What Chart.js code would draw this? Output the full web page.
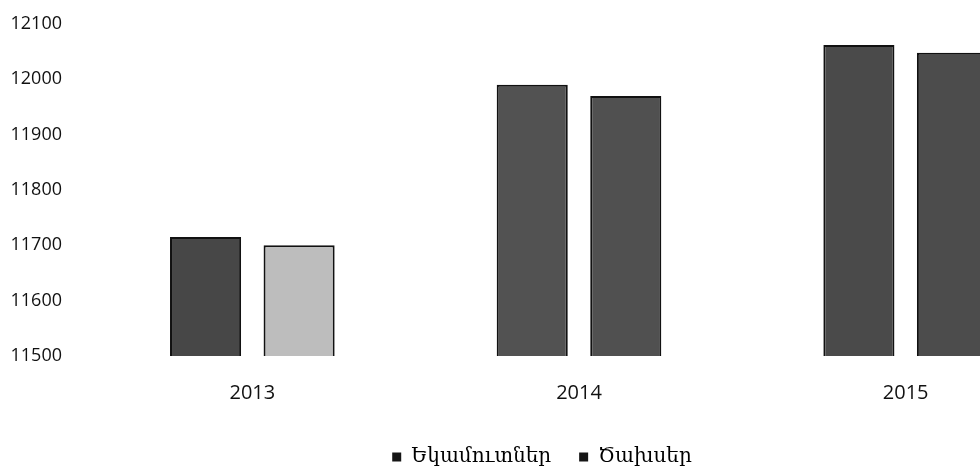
<!DOCTYPE html>
<html>
<head>
<meta charset="utf-8">
<script src="https://cdn.jsdelivr.net/npm/chart.js@4/dist/chart.umd.min.js"></script>
<style>
html,body{margin:0;padding:0;background:#fff;overflow:hidden}
#wrap{width:980px;height:472px;overflow:hidden;position:relative;background:#fff}
canvas{display:block}
</style>
</head>
<body>
<div id="wrap"><canvas id="c" width="1075" height="472"></canvas></div>
<script>
// ---- data ----
const years = ['2013', '2014', '2015'];
const seriesNames = ['Եկամուտներ', 'Ծախսեր'];
const incomes = [11715, 11990, 12062];
const expenses = [11700, 11970, 12048];
const yMin = 11500;
const yMax = 12100;
const yStep = 100;

// ---- styles ----
const incomeFill = ['#474747', '#525252', '#4a4a4a'];
const expenseFill = ['#bdbdbd', '#505050', '#4c4c4c'];
const legendBox = ['#151515', '#151515'];

const ctx = document.getElementById('c').getContext('2d');
new Chart(ctx, {
  type: 'bar',
  data: {
    labels: years,
    datasets: [
      { label: seriesNames[0], data: incomes, backgroundColor: incomeFill,
        borderColor: '#111', borderWidth: 2, borderSkipped: false },
      { label: seriesNames[1], data: expenses, backgroundColor: expenseFill,
        borderColor: '#111', borderWidth: 2, borderSkipped: false }
    ]
  },
  options: {
    responsive: false,
    animation: false,
    devicePixelRatio: 1,
    categoryPercentage: 0.5727,
    barPercentage: 0.76,
    layout: { padding: { left: 9, right: 0, top: 24, bottom: -5 } },
    plugins: {
      tooltip: { enabled: false },
      legend: {
        position: 'bottom',
        labels: {
          boxWidth: 9,
          boxHeight: 9,
          padding: 28,
          color: '#111',
          font: { family: "'DejaVu Serif', 'DejaVu Sans', serif", size: 20 },
          generateLabels: (chart) => chart.data.datasets.map((ds, i) => ({
            text: ds.label,
            fillStyle: legendBox[i],
            strokeStyle: legendBox[i],
            lineWidth: 0,
            hidden: false,
            datasetIndex: i
          }))
        }
      }
    },
    scales: {
      x: {
        grid: { display: false, drawTicks: false },
        border: { display: false },
        ticks: {
          color: '#111',
          padding: 25,
          font: { family: "'Open Sans', sans-serif", size: 20 }
        },
        afterFit: (s) => { s.height = 63; s.paddingRight = 6; }
      },
      y: {
        min: yMin,
        max: yMax,
        grid: { display: false, drawTicks: false },
        border: { display: false },
        ticks: {
          stepSize: yStep,
          color: '#111',
          padding: 27,
          font: { family: "'Open Sans', sans-serif", size: 18 },
          callback: (v) => String(v)
        },
        afterFit: (s) => { s.width = 80; s.paddingTop = 0; s.paddingBottom = 0; }
      }
    }
  }
});
</script>
</body>
</html>
